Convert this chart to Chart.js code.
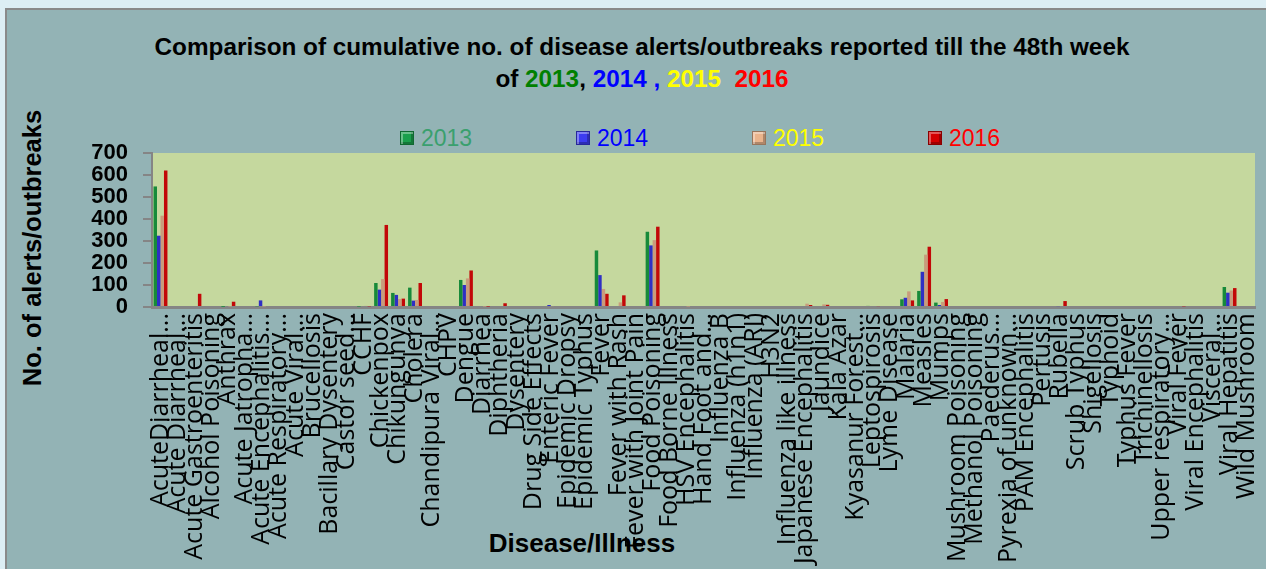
<!DOCTYPE html>
<html>
<head>
<meta charset="utf-8">
<script src="https://cdn.jsdelivr.net/npm/chart.js@4/dist/chart.umd.min.js"></script>
<style>
  html, body { margin:0; padding:0; width:1266px; height:569px; overflow:hidden; background:#ddeef4; }
  #frame { position:absolute; left:5px; top:8px; width:1261px; height:561px; background:#93b3b5;
           border-top:2px solid #8a8a8a; border-left:2px solid #8a8a8a; box-sizing:border-box; }
  #title { position:absolute; left:642px; top:31px; transform:translateX(-50%); white-space:nowrap;
           font-family:"Liberation Sans", Arial, sans-serif; font-weight:bold; font-size:24.3px; line-height:32px;
           text-align:center; color:#000; }
  #ytitle { position:absolute; left:32px; top:248px; transform:translate(-50%,-50%) rotate(-90deg);
            white-space:nowrap; font-family:"Liberation Sans", Arial, sans-serif; font-weight:bold; font-size:25.5px; color:#000; }
  #xtitle { position:absolute; left:582px; top:543px; transform:translate(-50%,-50%);
            white-space:nowrap; font-family:"Liberation Sans", Arial, sans-serif; font-weight:bold; font-size:26px; color:#000; }
  #legend { position:absolute; left:0; top:0; }
  .li { position:absolute; top:126px; height:24px; display:flex; align-items:center; white-space:nowrap;
        font-family:"Liberation Sans", Arial, sans-serif; font-size:23px; }
  .mk { width:14px; height:14px; margin-right:7px; box-sizing:border-box; border:1px solid rgba(0,0,0,0.35);
        box-shadow: inset 2px 2px 0 rgba(255,255,255,0.35), inset -2px -2px 0 rgba(0,0,0,0.25); }
  canvas { position:absolute; left:0; top:0; }
</style>
</head>
<body>
<div id="frame"></div>
<div id="title">Comparison of cumulative no. of disease alerts/outbreaks reported till the 48th week<br>of <span style="color:#008000">2013</span>, <span style="color:#0000ff">2014 ,</span> <span style="color:#ffff00">2015</span>&nbsp; <span style="color:#ff0000">2016</span></div>
<div id="ytitle">No. of alerts/outbreaks</div>
<div id="xtitle">Disease/Illness</div>
<div id="legend"></div>
<canvas id="c" width="1266" height="569"></canvas>
<script>
const categories = [
  "AcuteDiarrheal...", "Acute Diarrheal...", "Acute Gastroenteritis", "Alcohol Poisoning", "Anthrax",
  "Acute Jatropha...", "Acute Encephalitis...", "Acute Respiratory...", "Acute Viral...", "Brucellosis",
  "Bacillary Dysentery", "Castor seed...", "CCHF", "Chickenpox", "Chikungunya",
  "Cholera", "Chandipura Viral...", "CHPV", "Dengue", "Diarrhea",
  "Diphtheria", "Dysentery", "Drug Side Effects", "Enteric Fever", "Epidemic Dropsy",
  "Epidemic Typhus", "Fever", "Fever with Rash", "Fever with Joint Pain", "Food Poisoning",
  "Food Borne Illness", "HSV Encephalitis", "Hand Foot and...", "Influenza B", "Influenza (h1n1)",
  "Influenza (ARI)", "H3N2", "Influenza like illness", "Japanese Encephalitis", "Jaundice",
  "Kala Azar", "Kyasanur Forest...", "Leptospirosis", "Lyme Disease", "Malaria",
  "Measles", "Mumps", "Mushroom Poisoning", "Methanol Poisoning", "Paederus...",
  "Pyrexia of unknown...", "PAM Encephalitis", "Pertusis", "Rubella", "Scrub Typhus",
  "Shigellosis", "Typhoid", "Typhus Fever", "Trichinellosis", "Upper respiratory...",
  "Viral Fever", "Viral Encephalitis", "Visceral...", "Viral Hepatitis", "Wild Mushroom"
];
const series2013 = [548,0,0,0,1, 0,3,0,0,0, 0,0,2,109,64, 88,0,0,123,0, 0,0,0,0,0, 0,257,0,0,342, 0,0,0,0,0, 0,0,0,0,0, 0,0,5,0,35, 73,20,0,0,0, 0,0,0,0,0, 0,0,0,0,0, 0,0,0,91,0];
const series2014 = [324,0,0,0,0, 0,30,0,0,0, 0,0,0,79,55, 29,0,0,100,0, 0,0,0,9,0, 0,145,0,0,280, 0,0,0,0,0, 0,0,0,0,0, 0,0,0,0,42, 160,9,0,0,0, 0,0,0,4,0, 0,0,0,0,0, 0,0,0,65,0];
const series2015 = [415,0,0,0,2, 0,2,0,0,0, 0,0,5,127,36, 32,0,0,130,2, 0,0,0,4,0, 0,82,21,0,304, 0,2,0,0,0, 0,0,0,15,12, 0,0,0,0,71, 238,23,0,0,0, 0,0,0,0,0, 0,0,0,0,0, 0,0,0,75,0];
const series2016 = [620,0,60,0,24, 0,0,0,0,0, 0,0,3,373,38, 109,0,0,166,2, 17,0,0,0,0, 0,60,53,0,365, 0,0,0,0,0, 0,0,0,9,10, 0,0,4,0,30, 274,36,0,0,0, 0,0,0,27,0, 0,0,0,0,0, 3,0,0,86,0];
const seriesNames = ["2013", "2014", "2015", "2016"];
const yTicks = [0, 100, 200, 300, 400, 500, 600, 700];

const barColors = ["#178a3a", "#2f2fc4", "#c89c7c", "#c20808"];
const legendMarkerColors = ["#1aa04c", "#3c3cf0", "#eab48c", "#d40000"];
const legendTextColors = ["#3aa06e", "#0000ff", "#ffff00", "#ff0000"];
const seriesData = [series2013, series2014, series2015, series2016];

// HTML legend
const legendEl = document.getElementById('legend');
seriesNames.forEach((name, i) => {
  const d = document.createElement('div');
  d.className = 'li';
  d.style.left = (400 + i * 176) + 'px';
  d.innerHTML = '<div class="mk" style="background:' + legendMarkerColors[i] + '"></div><span style="color:' + legendTextColors[i] + '">' + name + '</span>';
  legendEl.appendChild(d);
});

const plotBg = {
  id: 'plotBg',
  beforeDraw(chart) {
    const {ctx, chartArea: a} = chart;
    ctx.save();
    ctx.fillStyle = '#c5d89e';
    ctx.fillRect(a.left, a.top, a.right - a.left, a.bottom - a.top);
    ctx.restore();
  }
};

new Chart(document.getElementById('c'), {
  type: 'bar',
  data: {
    labels: categories,
    datasets: seriesNames.map((n, i) => ({
      label: n,
      data: seriesData[i],
      backgroundColor: barColors[i],
      borderWidth: 0,
      barPercentage: 1.0,
      categoryPercentage: 0.82
    }))
  },
  options: {
    responsive: false,
    animation: false,
    layout: { padding: { top: 153, right: 11, left: 0, bottom: 0 } },
    plugins: { legend: { display: false }, title: { display: false }, tooltip: { enabled: false } },
    scales: {
      x: {
        grid: { display: false, drawTicks: false },
        border: { display: true, color: '#858585', width: 3 },
        ticks: {
          autoSkip: false, maxRotation: 90, minRotation: 90, padding: 6,
          color: '#000', font: { family: 'Open Sans', size: 25 }
        },
        afterFit(s) { s.height = 262; s.paddingLeft = 0; s.paddingRight = 0; }
      },
      y: {
        min: 0, max: 700,
        afterBuildTicks(s) { s.ticks = yTicks.map(v => ({ value: v })); },
        ticks: { autoSkip: false, padding: 15, color: '#000', font: { family: 'Liberation Sans', size: 22, weight: 'bold' } },
        grid: { drawOnChartArea: false, drawTicks: true, tickLength: 9, color: '#858585', lineWidth: 2 },
        border: { display: true, color: '#858585', width: 2 },
        afterFit(s) { s.width = 152; s.paddingTop = 0; s.paddingBottom = 0; }
      }
    }
  },
  plugins: [plotBg]
});
</script>
</body>
</html>
